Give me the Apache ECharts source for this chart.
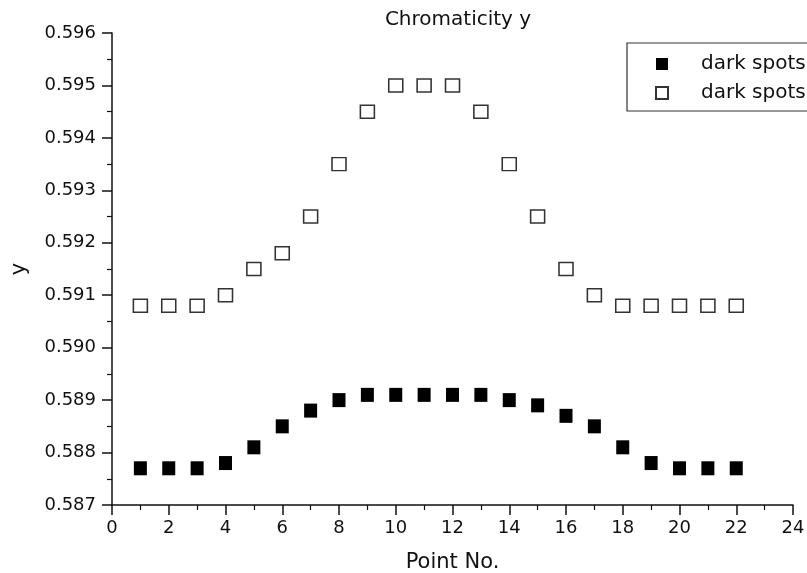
<!DOCTYPE html>
<html>
<head>
<meta charset="utf-8">
<style>
  html, body { margin: 0; padding: 0; background: #fff; }
  #chart { width: 807px; height: 573px; }
</style>
<script src="https://cdn.jsdelivr.net/npm/echarts@6/dist/echarts.min.js"></script>
</head>
<body>
<div id="chart"></div>
<script>
// ---- Data ----
const pointNo = [1, 2, 3, 4, 5, 6, 7, 8, 9, 10, 11, 12, 13, 14, 15, 16, 17, 18, 19, 20, 21, 22];
const filledY = [0.5877, 0.5877, 0.5877, 0.5878, 0.5881, 0.5885, 0.5888, 0.5890, 0.5891, 0.5891, 0.5891,
                 0.5891, 0.5891, 0.5890, 0.5889, 0.5887, 0.5885, 0.5881, 0.5878, 0.5877, 0.5877, 0.5877];
const openY   = [0.5908, 0.5908, 0.5908, 0.5910, 0.5915, 0.5918, 0.5925, 0.5935, 0.5945, 0.5950, 0.5950,
                 0.5950, 0.5945, 0.5935, 0.5925, 0.5915, 0.5910, 0.5908, 0.5908, 0.5908, 0.5908, 0.5908];
const seriesNames = ['dark spots (1)', 'dark spots (2)'];
const xTicks = { min: 0, max: 24, interval: 2 };
const yTicks = { min: 0.587, max: 0.596, interval: 0.001 };
const titleText = 'Chromaticity y';
const xName = 'Point No.';
const yName = 'y';

const FONT = 'DejaVu Sans';
const pairs = (xs, ys) => xs.map((x, i) => [x, ys[i]]);

const chart = echarts.init(document.getElementById('chart'), null, { renderer: 'canvas' });
chart.setOption({
  backgroundColor: '#ffffff',
  animation: false,
  title: {
    text: titleText,
    left: 458, top: 10, textAlign: 'center', padding: 0,
    textStyle: { fontFamily: FONT, fontSize: 20, fontWeight: 'normal', color: '#111' }
  },
  legend: {
    left: 627, top: 43, orient: 'vertical',
    padding: [11, 60, 8, 28],
    itemGap: 9, itemWidth: 12, itemHeight: 12,
    borderColor: '#333', borderWidth: 1.2,
    data: seriesNames,
    formatter: n => '{a|' + n + '}',
    textStyle: {
      fontFamily: FONT, fontSize: 20, color: '#111',
      rich: { a: { fontFamily: FONT, fontSize: 20, color: '#111', padding: [0, 0, 0, 28] } }
    }
  },
  grid: { left: 112, right: 14, top: 33, bottom: 68, containLabel: false, outerBoundsMode: 'none' },
  xAxis: {
    type: 'value', min: xTicks.min, max: xTicks.max, interval: xTicks.interval,
    name: xName, nameLocation: 'middle', nameGap: 47,
    nameTextStyle: { fontFamily: FONT, fontSize: 21, color: '#111' },
    axisLine: { show: true, onZero: false, lineStyle: { color: '#111', width: 1.5 } },
    axisTick: { show: true, inside: false, length: 10, lineStyle: { color: '#111', width: 1.5 } },
    minorTick: { show: true, splitNumber: 2, length: 5, lineStyle: { color: '#111', width: 1.2 } },
    axisLabel: { fontFamily: FONT, fontSize: 18, color: '#111', margin: 14 },
    splitLine: { show: false }
  },
  yAxis: {
    type: 'value', min: yTicks.min, max: yTicks.max, interval: yTicks.interval,
    name: yName, nameLocation: 'middle', nameGap: 82, nameRotate: 90,
    nameTextStyle: { fontFamily: FONT, fontSize: 21, color: '#111' },
    axisLine: { show: true, onZero: false, lineStyle: { color: '#111', width: 1.5 } },
    axisTick: { show: true, inside: false, length: 10, lineStyle: { color: '#111', width: 1.5 } },
    minorTick: { show: true, splitNumber: 2, length: 5, lineStyle: { color: '#111', width: 1.2 } },
    axisLabel: { fontFamily: FONT, fontSize: 18, color: '#111', margin: 16,
                 formatter: v => v.toFixed(3) },
    splitLine: { show: false }
  },
  series: [
    {
      name: seriesNames[0], type: 'scatter', symbol: 'rect', symbolSize: [13, 14],
      itemStyle: { color: '#000', borderColor: '#000', borderWidth: 0, opacity: 1 },
      data: pairs(pointNo, filledY)
    },
    {
      name: seriesNames[1], type: 'scatter', symbol: 'rect', symbolSize: [14, 13],
      itemStyle: { color: '#fff', borderColor: '#333', borderWidth: 1.5, opacity: 1 },
      data: pairs(pointNo, openY)
    }
  ]
});
</script>
</body>
</html>
